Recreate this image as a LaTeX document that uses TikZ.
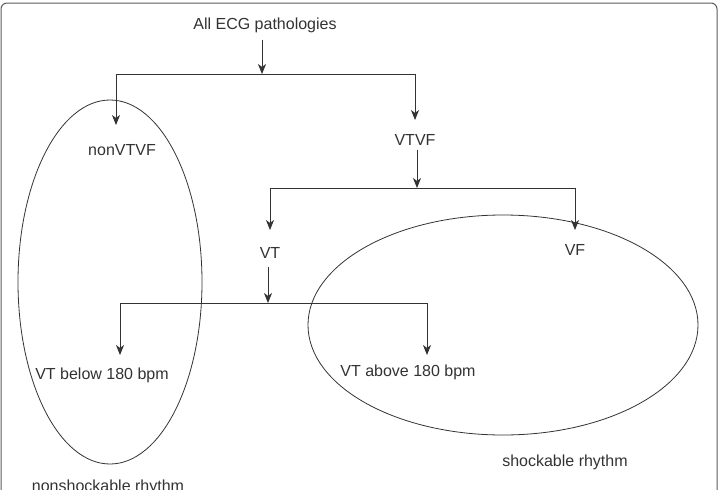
\documentclass[tikz,border=0pt]{standalone}
\usepackage{fontspec}
\setmainfont{Liberation Sans}
\usetikzlibrary{arrows.meta,shapes.geometric}
\definecolor{ink}{HTML}{333333}
\tikzset{
  lbl/.style={inner sep=0pt, text=ink, font=\fontsize{16pt}{19pt}\selectfont},
  ln/.style={draw=ink, line width=0.8pt},
  arr/.style={ln, -{Stealth[length=10pt,width=8pt,inset=3pt]}},
  region/.style={ellipse, draw=ink, line width=0.8pt, inner sep=0pt},
}
\begin{document}
\begin{tikzpicture}[x=1pt,y=-1pt]
\useasboundingbox (0,0) rectangle (723,490);
\clip (0,0) rectangle (723,490);
\fill[white] (0,0) rectangle (723,490);
\draw[draw=ink!80, line width=1pt, rounded corners=6pt] (1,3) rectangle (717,520);

% regions
\node[region, minimum width=184pt, minimum height=364pt] (nonshock) at (110,282) {};
\node[region, minimum width=390pt, minimum height=220pt] (shock) at (503,325) {};

% text nodes
\node[lbl] (all) at (265,25) {All ECG pathologies};
\node[lbl] (nonvtvf) at (122,150) {nonVTVF};
\node[lbl] (vtvf) at (415,140) {VTVF};
\node[lbl] (vt) at (270,253) {VT};
\node[lbl] (vf) at (575,250) {VF};
\node[lbl] (below) at (102,375) {VT below 180 bpm};
\node[lbl] (above) at (408,372) {VT above 180 bpm};
\node[lbl] (shocklbl) at (565,462) {shockable rhythm};
\node[lbl] (nonshocklbl) at (108,487) {nonshockable rhythm};

% branch points
\coordinate (b1) at (262,74);
\coordinate (b1l) at (116,74);
\coordinate (b1r) at (415,74);
\coordinate (t1l) at (116,125);
\coordinate (t1r) at (415,120);

\coordinate (b2) at (417,188);
\coordinate (b2l) at (270,188);
\coordinate (b2r) at (575,188);
\coordinate (t2l) at (270,230);
\coordinate (t2r) at (575,230);

\coordinate (b3) at (268,303);
\coordinate (b3l) at (120,303);
\coordinate (b3r) at (427,303);
\coordinate (t3l) at (120,355);
\coordinate (t3r) at (427,355);

% connectors
\draw[arr] ([yshift=-7pt]all.south -| b1) -- (b1);
\draw[ln] (b1l) -- (b1r);
\draw[arr] (b1l) -- (t1l);
\draw[arr] (b1r) -- (t1r);

\draw[arr] ([yshift=-4pt]vtvf.south -| b2) -- (b2);
\draw[ln] (b2l) -- (b2r);
\draw[arr] (b2l) -- (t2l);
\draw[arr] (b2r) -- (t2r);

\draw[arr] ([yshift=-8pt]vt.south -| b3) -- (b3);
\draw[ln] (b3l) -- (b3r);
\draw[arr] (b3l) -- (t3l);
\draw[arr] (b3r) -- (t3r);
\end{tikzpicture}
\end{document}
